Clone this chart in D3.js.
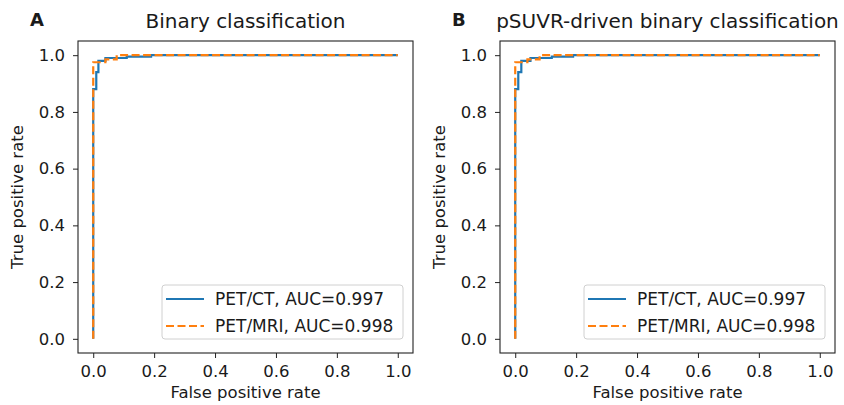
<!DOCTYPE html>
<meta charset="utf-8">
<script src="https://d3js.org/d3.v7.min.js"></script>
<style>
  body { margin: 0; background: #fff; }
  text { font-family: "DejaVu Sans", Verdana, sans-serif; fill: #1a1a1a; }
</style>
<div id="my_dataviz"></div>
<script>

// ROC points
var fprCT_A  = [0, 0,    0.01, 0.01, 0.017, 0.017, 0.04, 0.04, 0.11, 0.11,  0.19,  0.19, 1];
var tprCT_A  = [0, 0.88, 0.88, 0.94, 0.94,  0.98,  0.98, 0.99, 0.99, 0.995, 0.995, 1,    1];
var fprMRI_A = [0, 0,     0.04,  0.04,  0.077, 0.077, 1];
var tprMRI_A = [0, 0.975, 0.975, 0.985, 0.985, 1,     1];

var fprCT_B  = [0, 0,    0.01, 0.01, 0.02, 0.02, 0.05, 0.05, 0.12, 0.12,  0.19,  0.19, 1];
var tprCT_B  = [0, 0.88, 0.88, 0.94, 0.94, 0.98, 0.98, 0.99, 0.99, 0.995, 0.995, 1,    1];
var fprMRI_B = [0, 0,     0.04,  0.04,  0.08,  0.08, 1];
var tprMRI_B = [0, 0.975, 0.975, 0.985, 0.985, 1,    1];

var ticks = [0.0, 0.2, 0.4, 0.6, 0.8, 1.0];
var seriesNames = ["PET/CT, AUC=0.997", "PET/MRI, AUC=0.998"];
var colors = ["#1f77b4", "#ff7f0e"];

var svg = d3.select("#my_dataviz")
  .append("svg")
    .attr("width", 844)
    .attr("height", 405);

function drawPanel(left, right, letter, title, fprCT, tprCT, fprMRI, tprMRI) {
  var top = 41, bottom = 353;

  var x = d3.scaleLinear().domain([-0.05, 1.05]).range([left, right]);
  var y = d3.scaleLinear().domain([-0.05, 1.05]).range([bottom, top]);

  // axes
  var xAxis = svg.append("g")
    .attr("transform", "translate(0," + bottom + ")")
    .call(d3.axisBottom(x).tickValues(ticks).tickFormat(d3.format(".1f")).tickSize(5).tickPadding(7));
  var yAxis = svg.append("g")
    .attr("transform", "translate(" + left + ",0)")
    .call(d3.axisLeft(y).tickValues(ticks).tickFormat(d3.format(".1f")).tickSize(5).tickPadding(8));
  [xAxis, yAxis].forEach(function(g) {
    g.select(".domain").remove();
    g.selectAll("line").attr("stroke", "#222").attr("stroke-width", 1);
    g.selectAll("text").style("font-size", "16.5px").style("font-family", "DejaVu Sans").attr("fill", "#1a1a1a");
  });

  // curves
  var line = d3.line()
    .x(function(d) { return x(d[0]); })
    .y(function(d) { return y(d[1]); });

  var ct = d3.zip(fprCT, tprCT);
  var mri = d3.zip(fprMRI, tprMRI);

  svg.append("path")
    .datum(ct)
    .attr("fill", "none")
    .attr("stroke", colors[0])
    .attr("stroke-width", 2.2)
    .attr("d", line);

  svg.append("path")
    .datum(mri)
    .attr("fill", "none")
    .attr("stroke", colors[1])
    .attr("stroke-width", 2.2)
    .attr("stroke-dasharray", "8,3.5")
    .attr("d", line);

  // frame
  svg.append("rect")
    .attr("x", left).attr("y", top)
    .attr("width", right - left).attr("height", bottom - top)
    .attr("fill", "none").attr("stroke", "#222").attr("stroke-width", 1.1);

  // legend
  var lg = svg.append("g").attr("transform", "translate(" + (right - 251) + "," + (bottom - 68) + ")");
  lg.append("rect")
    .attr("width", 241).attr("height", 54)
    .attr("rx", 3)
    .attr("fill", "#fff").attr("fill-opacity", 0.8)
    .attr("stroke", "#d0d0d0");
  seriesNames.forEach(function(name, i) {
    var yy = 14 + i * 27;
    lg.append("line")
      .attr("x1", 4).attr("x2", 42)
      .attr("y1", yy).attr("y2", yy)
      .attr("stroke", colors[i]).attr("stroke-width", 2.2)
      .attr("stroke-dasharray", i === 1 ? "8,3.5" : null);
    lg.append("text")
      .attr("x", 53).attr("y", yy + 6)
      .style("font-size", "17px")
      .text(name);
  });

  // labels
  svg.append("text")
    .attr("x", (left + right) / 2).attr("y", 398)
    .attr("text-anchor", "middle")
    .style("font-size", "16.5px")
    .text("False positive rate");
  svg.append("text")
    .attr("transform", "translate(" + (left - 55) + "," + ((top + bottom) / 2) + ")rotate(-90)")
    .attr("text-anchor", "middle")
    .style("font-size", "16.5px")
    .text("True positive rate");
  svg.append("text")
    .attr("x", (left + right) / 2).attr("y", 28)
    .attr("text-anchor", "middle")
    .style("font-size", "20px")
    .text(title);
  svg.append("text")
    .attr("x", left - 48).attr("y", 26)
    .style("font-size", "18px")
    .style("font-weight", "bold")
    .attr("fill", "#000")
    .text(letter);
}

drawPanel(78, 413, "A", "Binary classification", fprCT_A, tprCT_A, fprMRI_A, tprMRI_A);
drawPanel(500, 835, "B", "pSUVR-driven binary classification", fprCT_B, tprCT_B, fprMRI_B, tprMRI_B);

</script>
